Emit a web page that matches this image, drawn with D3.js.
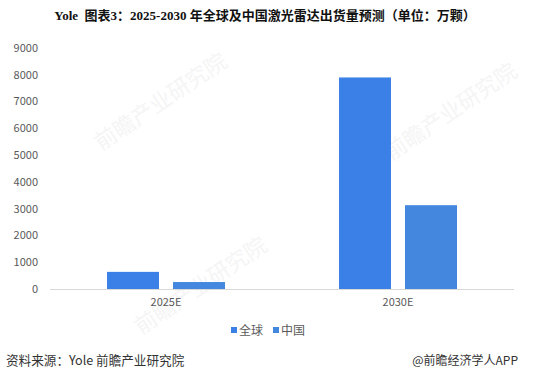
<!DOCTYPE html>
<html>
<head>
<meta charset="utf-8">
<script src="https://cdn.jsdelivr.net/npm/d3@7"></script>
<style>
  body { margin: 0; background: #fff; }
  svg { display: block; font-family: "Noto Sans CJK SC", "Noto Sans", sans-serif; }
</style>
</head>
<body>
<svg id="chart" width="541" height="371"></svg>
<script>
// data
const categories = ['2025E', '2030E'];
const seriesNames = ['全球', '中国'];
const globalValues = [640, 7900];
const chinaValues = [260, 3130];
const yTicks = [0, 1000, 2000, 3000, 4000, 5000, 6000, 7000, 8000, 9000];
const colors = ['#3a80e6', '#4387df'];

const svg = d3.select('#chart');
const margin = { left: 50, right: 27, top: 48, bottom: 82 };
const W = 541, H = 371;

const x = d3.scaleBand().domain(categories).range([margin.left, W - margin.right]);
const x1 = d3.scaleBand().domain(seriesNames).range([0, x.bandwidth()]).paddingInner(0.212).paddingOuter(0.864);
const y = d3.scaleLinear().domain([0, 9000]).range([H - margin.bottom, margin.top]);

// faint watermarks (behind everything)
const marks = [[165, 108], [455, 118], [205, 292]];
svg.append('g').selectAll('text').data(marks).join('text')
  .attr('transform', d => `translate(${d[0]},${d[1]}) rotate(-34)`)
  .attr('text-anchor', 'middle')
  .style('font-size', '22px')
  .attr('fill', '#f5f5f5')
  .text('前瞻产业研究院');

// title
svg.append('text')
  .attr('x', 265).attr('y', 20)
  .attr('text-anchor', 'middle')
  .style('white-space', 'pre')
  .style('font-family', '"Liberation Serif", "Noto Sans CJK SC", serif')
  .style('font-weight', 'bold')
  .style('font-size', '13px')
  .attr('fill', '#111')
  .text('Yole  图表3：2025-2030 年全球及中国激光雷达出货量预测（单位：万颗）');

// y axis labels
svg.append('g').selectAll('text').data(yTicks).join('text')
  .attr('x', 38).attr('y', d => y(d))
  .attr('dy', '0.35em')
  .attr('text-anchor', 'end')
  .style('font-size', '11px')
  .attr('fill', '#595959')
  .text(d => d);

// bars
const rows = categories.map((c, i) => ({ cat: c, vals: [globalValues[i], chinaValues[i]] }));
const groups = svg.append('g').selectAll('g').data(rows).join('g')
  .attr('transform', d => `translate(${x(d.cat)},0)`);
groups.selectAll('rect')
  .data(d => d.vals.map((v, j) => ({ name: seriesNames[j], v, j })))
  .join('rect')
  .attr('x', d => x1(d.name))
  .attr('width', x1.bandwidth())
  .attr('y', d => y(d.v))
  .attr('height', d => y(0) - y(d.v))
  .attr('fill', d => colors[d.j]);

// baseline axis
svg.append('line')
  .attr('x1', margin.left).attr('x2', W - margin.right)
  .attr('y1', y(0) + 0.5).attr('y2', y(0) + 0.5)
  .attr('stroke', '#d9d9d9');

// x labels
svg.append('g').selectAll('text').data(categories).join('text')
  .attr('x', d => x(d) + x.bandwidth() / 2)
  .attr('y', y(0) + 17)
  .attr('text-anchor', 'middle')
  .style('font-size', '11px')
  .attr('fill', '#595959')
  .text(d => d);

// legend
const legendX = [231, 273];
const lg = svg.append('g').selectAll('g').data(seriesNames).join('g')
  .attr('transform', (d, i) => `translate(${legendX[i]},331)`);
lg.append('rect').attr('x', 0).attr('y', -4).attr('width', 6).attr('height', 6)
  .attr('fill', (d, i) => colors[i]);
lg.append('text').attr('x', 8).attr('dy', '0.35em')
  .style('font-size', '12px').attr('fill', '#595959')
  .text(d => d);

// footer
svg.append('text').attr('x', 6).attr('y', 365)
  .style('font-size', '12.6px').attr('fill', '#333')
  .text('资料来源：Yole 前瞻产业研究院');
svg.append('text').attr('x', 518).attr('y', 365)
  .attr('text-anchor', 'end')
  .style('font-size', '12px').attr('fill', '#333')
  .text('@前瞻经济学人APP');
</script>
</body>
</html>
